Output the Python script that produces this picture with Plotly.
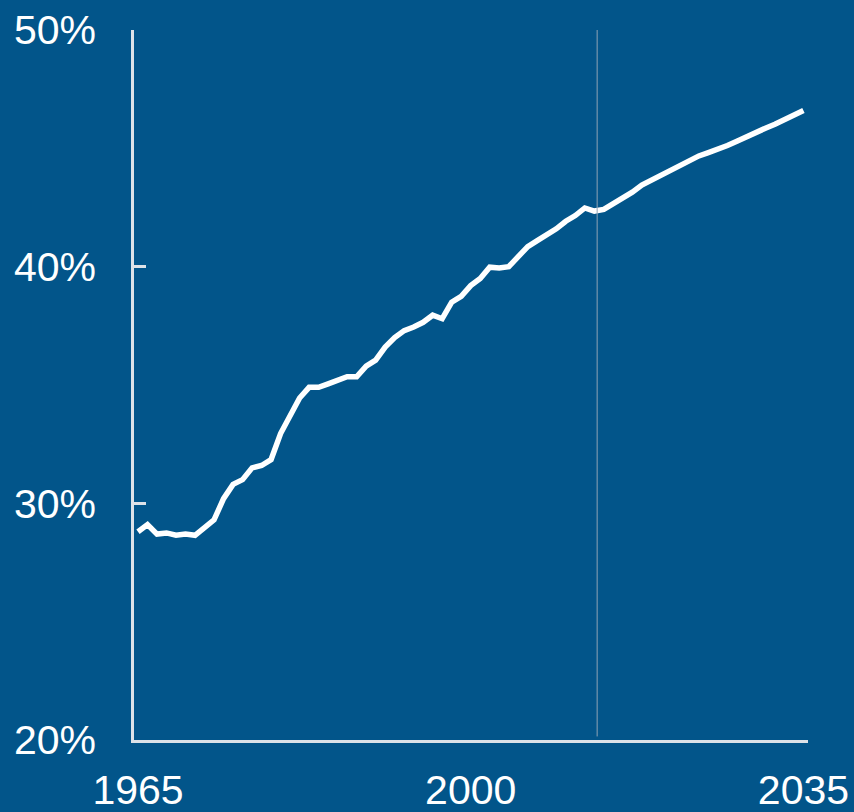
import plotly.graph_objects as go

# Share (%) by year: historical through 2012, projection afterwards
years = list(range(1965, 2036))
share_pct = [
    28.8, 29.1, 28.7, 28.75, 28.65, 28.7, 28.65, 29.0, 29.3, 30.2,   # 1965-1974
    30.8, 31.0, 31.5, 31.6, 31.85, 32.95, 33.75, 34.45, 34.9, 34.9,  # 1975-1984
    35.05, 35.2, 35.35, 35.35, 35.8, 36.05, 36.6, 37.0, 37.3, 37.45, # 1985-1994
    37.65, 37.95, 37.8, 38.5, 38.75, 39.2, 39.5, 39.98, 39.94, 40.0, # 1995-2004
    40.45, 40.85, 41.1, 41.35, 41.6, 41.92, 42.16, 42.48, 42.35, 42.42, # 2005-2014
    42.65, 42.88, 43.15, 43.45, 43.65, 43.9, 44.1, 44.3, 44.5, 44.68,   # 2015-2024
    44.82, 44.95, 45.12, 45.3, 45.5, 45.7, 45.85, 46.02, 46.2, 46.4,    # 2025-2034
    46.6,                                                               # 2035
]

x_tick_vals = [1965, 2000, 2035]
x_tick_text = ["1965", "2000", "2035"]
y_tick_vals = [20, 30, 40, 50]
y_tick_text = ["20%", "30%", "40%", "50%"]

projection_start = 2013.3

BG = "#02558A"
AXIS = "#DDE2E8"
FONT = "Liberation Sans, Arial, sans-serif"

fig = go.Figure()
fig.add_trace(go.Scatter(
    x=years, y=share_pct, mode="lines",
    line=dict(color="white", width=5.5, shape="linear"),
    hoverinfo="skip", showlegend=False,
))

# divider between historical and projected values
fig.add_shape(type="line", xref="x", yref="paper",
              x0=projection_start, x1=projection_start, y0=0.005, y1=1,
              line=dict(color="#8FA3B5", width=1))

fig.update_layout(
    width=854, height=812,
    margin=dict(l=134, r=46, t=30, b=72, autoexpand=False),
    paper_bgcolor=BG, plot_bgcolor=BG,
    font=dict(family=FONT, size=41, color="white"),
    showlegend=False,
)
fig.update_xaxes(
    range=[1964.58, 2035.48],
    tickvals=x_tick_vals, ticktext=x_tick_text,
    showgrid=False, zeroline=False,
    showline=True, linecolor=AXIS, linewidth=2.5,
    ticks="", ticklabelstandoff=12,
    tickfont=dict(family=FONT, size=41, color="white"),
)
fig.update_yaxes(
    range=[20, 50],
    tickvals=y_tick_vals, ticktext=y_tick_text,
    showgrid=False, zeroline=False,
    showline=True, linecolor=AXIS, linewidth=2.5,
    ticks="inside", ticklen=12, tickwidth=2.5, tickcolor=AXIS,
    ticklabelstandoff=27,
    tickfont=dict(family=FONT, size=41, color="white"),
)

fig.write_html("out.html")
